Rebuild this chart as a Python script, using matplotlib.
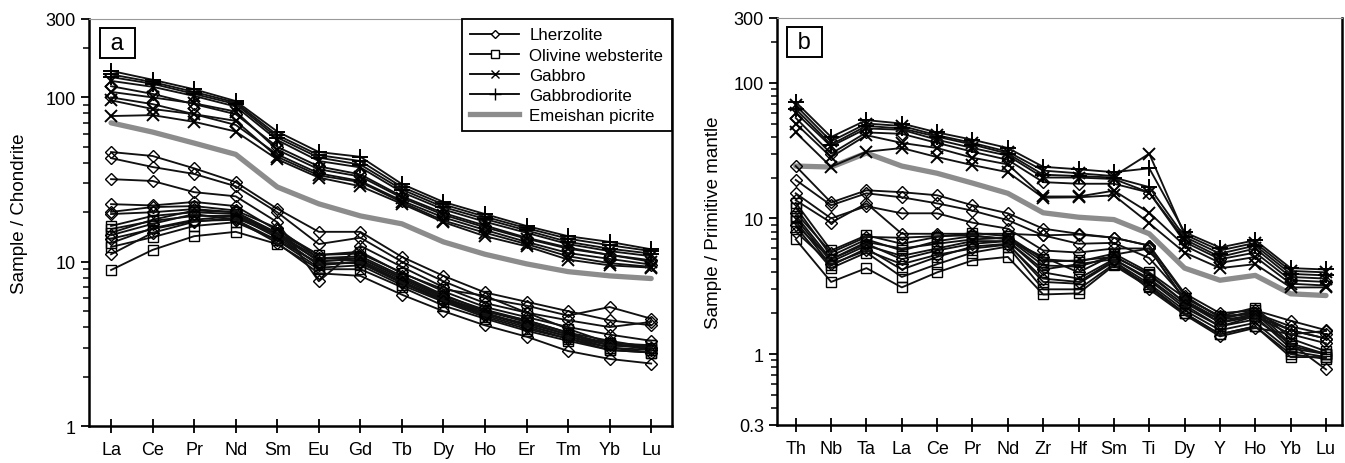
import numpy as np
import matplotlib.pyplot as plt
from matplotlib.lines import Line2D
from matplotlib.ticker import FixedLocator, LogLocator, NullFormatter

plt.rcParams['font.family'] = ['Liberation Sans', 'DejaVu Sans']

# --- panel a: chondrite-normalised REE ---
ree = ['La', 'Ce', 'Pr', 'Nd', 'Sm', 'Eu', 'Gd', 'Tb', 'Dy', 'Ho', 'Er', 'Tm', 'Yb', 'Lu']

ree_gabbrodiorite = [
    [145, 128, 112, 95, 62, 46.5, 43.5, 29.7, 23.1, 19.5, 16.5, 14.3, 13.2, 11.9],
    [138, 124, 108, 93, 59, 44.5, 41, 28.5, 22.3, 18.8, 16.0, 13.8, 12.6, 11.6],
    [133, 121, 105, 91, 57, 43, 39, 27.5, 21.5, 18.2, 15.5, 13.2, 12.0, 11.2],
]
ree_gabbro = [
    [126, 116, 102, 88, 55, 41, 37.5, 26.5, 20.8, 17.5, 15.0, 12.8, 11.6, 10.8],
    [108, 100, 92, 82, 48, 36.5, 33, 24.5, 19.3, 16.2, 13.8, 12.0, 11.0, 10.0],
    [96, 85, 79, 72, 43.5, 33.5, 30.5, 23.0, 17.8, 15.0, 12.8, 10.8, 9.8, 9.3],
    [77, 78, 71, 62, 42, 32.5, 28.8, 22.5, 17.4, 14.3, 12.4, 10.3, 9.5, 9.2],
]
ree_lherzolite = [
    [117, 105, 91, 79, 50, 38, 34, 25, 19.8, 16.6, 14.0, 12.2, 11.0, 10.2],
    [100, 91, 79, 68, 45, 34.5, 31, 23.5, 18.6, 15.6, 13.2, 11.3, 10.4, 9.6],
    [46.5, 44, 37, 30.5, 21, 15.2, 15.2, 10.7, 8.2, 6.5, 5.7, 5.0, 4.4, 4.1],
    [42.7, 37.7, 34.2, 28.8, 20, 12.8, 14, 10.0, 7.6, 6.0, 5.4, 4.7, 5.3, 4.5],
    [31.8, 31, 26.5, 25, 17.4, 7.6, 12.5, 9.3, 7.0, 5.6, 4.9, 4.4, 4.0, 4.3],
    [22.4, 22, 23.1, 21.8, 15.5, 11, 11.2, 8.6, 6.6, 5.3, 4.6, 4.0, 3.6, 3.3],
    [20.1, 21.5, 21.8, 20.5, 16, 10.5, 10.8, 8.2, 6.3, 5.0, 4.4, 3.7, 3.3, 3.0],
    [19.5, 20, 20.9, 20, 15, 10, 10.5, 8.0, 6.1, 4.8, 4.2, 3.6, 3.2, 2.9],
    [13.8, 15.8, 17.7, 18, 13.5, 9.8, 9.8, 7.4, 5.8, 4.7, 4.0, 3.4, 3.0, 2.8],
    [11.1, 15, 17.5, 18.5, 14.5, 9.5, 10, 7.5, 5.8, 4.8, 4.1, 3.5, 3.1, 3.0],
    [14.5, 17, 19.5, 18, 13, 8.5, 8.2, 6.3, 5.0, 4.1, 3.5, 2.86, 2.56, 2.4],
]
ree_websterite = [
    [16.5, 19, 20, 19.5, 14.5, 10.2, 10.2, 7.8, 6.0, 5.0, 4.3, 3.6, 3.1, 3.0],
    [15.8, 17.7, 19, 19, 14, 9.6, 10, 7.6, 5.9, 4.9, 4.1, 3.5, 3.0, 2.9],
    [12.3, 14.1, 16.5, 17.4, 13.5, 9.2, 9.5, 7.2, 5.7, 4.6, 3.9, 3.4, 2.9, 2.8],
    [8.9, 11.8, 14.3, 15.2, 12.8, 9, 9, 7.0, 5.4, 4.5, 3.8, 3.3, 2.9, 2.8],
    [13, 16, 18, 19, 15, 11, 11.5, 8.5, 6.8, 6.2, 4.9, 3.9, 3.2, 3.1],
    [15, 18, 20.5, 20, 14.8, 10.5, 10.5, 8.0, 6.2, 5.1, 4.4, 3.7, 3.1, 3.1],
]
ree_picrite = [70, 61.5, 52.7, 45, 28.5, 22.5, 19.0, 17.0, 13.2, 11.1, 9.7, 8.7, 8.2, 7.9]

# --- panel b: primitive-mantle-normalised trace elements ---
trace = ['Th', 'Nb', 'Ta', 'La', 'Ce', 'Pr', 'Nd', 'Zr', 'Hf', 'Sm', 'Ti', 'Dy', 'Y', 'Ho', 'Yb', 'Lu']

pm_gabbrodiorite = [
    [72, 39.8, 53, 50, 43, 38, 33, 24, 23, 21.9, 23.4, 7.9, 6.1, 6.9, 4.3, 4.2],
    [64, 35, 48, 46, 40, 35, 30, 21, 20.5, 20, 17, 7.3, 5.5, 6.3, 3.9, 3.8],
]
pm_gabbro = [
    [68, 37, 50, 48, 41, 36, 31, 22.5, 21.5, 20.5, 30, 7.6, 5.8, 6.6, 4.1, 4.0],
    [60, 34, 46, 45, 38, 33, 29, 20, 20, 19.5, 15.5, 7.0, 5.2, 6.0, 3.7, 3.6],
    [50, 28.3, 41, 36, 33, 28, 25, 14.5, 14.5, 16, 11, 6.3, 4.7, 5.2, 3.3, 3.2],
    [43, 24, 31, 33, 28.3, 24.7, 21.9, 14.2, 14.3, 14.8, 9.2, 5.6, 4.3, 4.6, 3.1, 3.1],
]
pm_lherzolite = [
    [55, 30, 43, 42, 36, 31, 27, 18.5, 18, 18, 15.5, 6.7, 5.0, 5.6, 3.5, 3.4],
    [24.3, 13.1, 16.1, 15.6, 14.8, 12.5, 10.9, 8.4, 7.7, 7.2, 6.3, 2.8, 2.0, 2.1, 1.76, 1.5],
    [19.2, 12.5, 15.3, 14.3, 12.9, 11.4, 9.7, 7.5, 6.5, 6.6, 5.1, 2.6, 1.9, 2.0, 1.6, 1.4],
    [13.6, 9.3, 12.9, 7.7, 7.7, 7.7, 7.7, 7.5, 7.6, 7.2, 6.3, 2.7, 1.85, 2.0, 1.5, 1.3],
    [15.3, 10, 12.3, 10.9, 10.9, 9.3, 8.4, 5.8, 5.6, 6.0, 6.0, 2.5, 1.8, 1.9, 1.5, 1.3],
    [11, 5.6, 7.3, 7.2, 7.4, 7.5, 7.0, 5.2, 4.0, 5.4, 6.0, 2.5, 1.7, 1.9, 1.4, 1.2],
    [9.0, 5.0, 6.5, 5.0, 5.8, 6.5, 6.8, 4.2, 4.6, 5.0, 3.6, 2.3, 1.6, 1.8, 1.2, 0.77],
    [8.0, 4.6, 5.8, 4.6, 5.4, 6.0, 6.4, 3.6, 3.4, 4.9, 3.0, 1.95, 1.35, 1.56, 1.4, 1.48],
]
pm_websterite = [
    [13, 5.8, 7.5, 6.5, 7.3, 7.8, 7.4, 5.0, 4.8, 5.5, 4.0, 2.6, 1.9, 2.2, 1.3, 1.05],
    [12, 5.3, 7.0, 5.8, 6.8, 7.4, 7.1, 4.5, 4.4, 5.3, 3.8, 2.4, 1.8, 2.1, 1.2, 1.0],
    [10.5, 5.0, 6.7, 6.0, 6.5, 7.0, 7.2, 4.8, 4.9, 5.2, 3.9, 2.4, 1.7, 2.0, 1.15, 1.0],
    [10, 4.8, 6.3, 5.3, 6.0, 6.8, 6.8, 4.0, 3.6, 5.0, 3.5, 2.2, 1.6, 1.9, 1.1, 1.0],
    [9.5, 4.5, 6.0, 4.2, 5.2, 6.2, 6.5, 3.4, 3.3, 4.8, 3.3, 2.1, 1.5, 1.7, 1.05, 0.95],
    [8.7, 4.3, 5.6, 3.7, 4.6, 5.6, 6.2, 3.0, 3.0, 4.6, 3.2, 2.0, 1.4, 1.6, 1.0, 0.92],
    [7.0, 3.4, 4.3, 3.1, 4.0, 4.9, 5.2, 2.75, 2.8, 4.5, 3.1, 2.0, 1.4, 1.6, 0.95, 0.95],
]
pm_picrite = [24.3, 23.9, 30.3, 24.3, 21.5, 18.2, 15.3, 11.0, 10.2, 9.8, 7.7, 4.3, 3.5, 3.8, 2.78, 2.7]

styles = {
    'lherz': dict(marker='D', ms=6.5, mfc='none', mec='black', mew=1.0),
    'webst': dict(marker='s', ms=7.5, mfc='none', mec='black', mew=1.0),
    'gabbro': dict(marker='x', ms=9, mec='black', mew=1.4),
    'gdior': dict(marker='+', ms=11, mec='black', mew=1.4),
}
grey = '#8c8c8c'


def draw(ax, names, groups, picrite):
    x = np.arange(len(names))
    ax.plot(x, picrite, color=grey, lw=3.8, solid_capstyle='round', zorder=1)
    for data, key in groups:
        for row in data:
            ax.plot(x, row, color='#111111', lw=1.35, zorder=2, **styles[key])
    ax.set_yscale('log')
    ax.set_xticks(x)
    ax.set_xticklabels(names, fontsize=13)
    ax.tick_params(axis='x', direction='inout', length=10, width=1.3, pad=6)
    ax.tick_params(axis='y', which='major', direction='out', length=6, width=1.3, labelsize=13)
    ax.tick_params(axis='y', which='minor', direction='out', length=4, width=1.1)
    ax.yaxis.set_minor_locator(LogLocator(base=10, subs=np.arange(2, 10)))
    ax.yaxis.set_minor_formatter(NullFormatter())
    for s in ['left', 'bottom', 'right']:
        ax.spines[s].set_linewidth(1.8)
    ax.spines['top'].set_linewidth(0.8)
    ax.spines['top'].set_color('#999999')


fig = plt.figure(figsize=(13.45, 4.64), dpi=100)
ax1 = fig.add_axes([0.0662, 0.0797, 0.4334, 0.8772])
ax2 = fig.add_axes([0.5777, 0.0819, 0.4200, 0.8772])

draw(ax1, ree, [(ree_websterite, 'webst'), (ree_lherzolite, 'lherz'),
                (ree_gabbro, 'gabbro'), (ree_gabbrodiorite, 'gdior')], ree_picrite)
ax1.set_xlim(-0.53, 13.5)
ax1.set_ylim(1, 300)
ax1.yaxis.set_major_locator(FixedLocator([1, 10, 100, 300]))
ax1.set_yticklabels(['1', '10', '100', '300'])
ax1.set_ylabel('Sample / Chondrite', fontsize=13.5)
ax1.yaxis.set_label_coords(-0.105, 0.525)

draw(ax2, trace, [(pm_websterite, 'webst'), (pm_lherzolite, 'lherz'),
                  (pm_gabbro, 'gabbro'), (pm_gabbrodiorite, 'gdior')], pm_picrite)
ax2.set_xlim(-0.53, 15.45)
ax2.set_ylim(0.3, 300)
ax2.yaxis.set_major_locator(FixedLocator([0.3, 1, 10, 100, 300]))
ax2.set_yticklabels(['0.3', '1', '10', '100', '300'])
ax2.set_ylabel('Sample / Primitive mantle', fontsize=13.5, labelpad=8)

for ax, lab in [(ax1, ' a '), (ax2, ' b ')]:
    ax.text(0.049, 0.942, lab, transform=ax.transAxes, fontsize=17, ha='center', va='center',
            bbox=dict(boxstyle='square,pad=0.17', fc='white', ec='black', lw=1.4))

handles = [
    Line2D([], [], color='black', lw=1.3, marker='D', ms=4.5, mfc='white', mec='black'),
    Line2D([], [], color='black', lw=1.3, marker='s', ms=6, mfc='white', mec='black'),
    Line2D([], [], color='black', lw=1.3, marker='x', ms=6, mec='black'),
    Line2D([], [], color='black', lw=1.3, marker='+', ms=8, mec='black'),
    Line2D([], [], color=grey, lw=3.8),
]
labels = ['Lherzolite', 'Olivine websterite', 'Gabbro', 'Gabbrodiorite', 'Emeishan picrite']
leg = ax1.legend(handles, labels, loc='upper right', borderaxespad=0, fontsize=12.2,
                 frameon=True, fancybox=False, edgecolor='black', framealpha=1,
                 handlelength=2.9, handletextpad=0.6, labelspacing=0.3, borderpad=0.5)
leg.get_frame().set_linewidth(1.3)

fig.savefig('out.png', dpi=100)
